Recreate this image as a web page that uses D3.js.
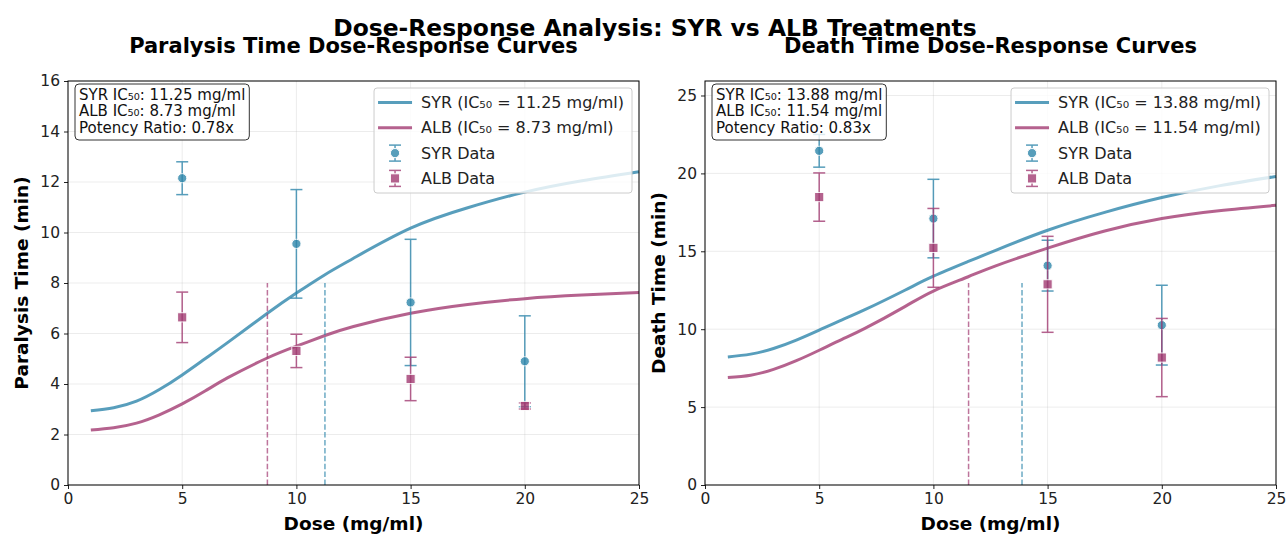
<!DOCTYPE html>
<html>
<head>
<meta charset="utf-8">
<script src="https://cdn.jsdelivr.net/npm/d3@7"></script>
<style>
  body { margin: 0; background: #fff; }
  svg { font-family: "DejaVu Sans", sans-serif; }
</style>
</head>
<body>
<svg id="chart" width="1286" height="534"></svg>
<script>
// Observed doses and measured means / error bars
const doses = [5, 10, 15, 20];
const paralysisSyrMean = [12.15, 9.55, 7.23, 4.9];
const paralysisSyrErr = [0.65, 2.15, 2.5, 1.8];
const paralysisAlbMean = [6.64, 5.31, 4.2, 3.13];
const paralysisAlbErr = [1.0, 0.66, 0.86, 0.12];
const deathSyrMean = [21.45, 17.1, 14.08, 10.26];
const deathSyrErr = [1.05, 2.52, 1.63, 2.56];
const deathAlbMean = [18.48, 15.22, 12.88, 8.18];
const deathAlbErr = [1.55, 2.53, 3.08, 2.51];

// Fitted curves
const paralysisCurveDose = [1, 2, 3, 4, 5, 6, 7, 8.7, 10, 11.25, 12.5, 15, 17.5, 20, 22.5, 25];
const paralysisSyrCurve = [2.94, 3.06, 3.32, 3.78, 4.36, 5.0, 5.65, 6.78, 7.6, 8.33, 8.98, 10.17, 10.98, 11.6, 12.05, 12.41];
const paralysisAlbCurve = [2.18, 2.27, 2.45, 2.78, 3.21, 3.72, 4.25, 5.02, 5.5, 5.92, 6.28, 6.8, 7.15, 7.38, 7.52, 7.62];
const deathCurveDose = [1, 2, 3, 4, 5, 6, 7, 8.75, 10, 11.5, 12.7, 15, 17.5, 20, 22.5, 25];
const deathSyrCurve = [8.22, 8.4, 8.76, 9.3, 9.94, 10.6, 11.25, 12.5, 13.4, 14.33, 15.05, 16.35, 17.5, 18.45, 19.2, 19.8];
const deathAlbCurve = [6.9, 7.05, 7.42, 7.98, 8.65, 9.35, 10.05, 11.45, 12.45, 13.35, 14.05, 15.2, 16.3, 17.1, 17.6, 17.95];

const paralysisIC50 = { syr: 11.25, alb: 8.73 };
const deathIC50 = { syr: 13.88, alb: 11.54 };
const potencyRatios = ["0.78x", "0.83x"];

const xTicks = [0, 5, 10, 15, 20, 25];
const paralysisYTicks = [0, 2, 4, 6, 8, 10, 12, 14, 16];
const deathYTicks = [0, 5, 10, 15, 20, 25];

const SYR = "#2E86AB";
const ALB = "#A23B72";

const svg = d3.select("#chart");
svg.append("rect").attr("width", 1286).attr("height", 534).attr("fill", "#fff");

svg.append("text")
    .attr("x", 655).attr("y", 35.5)
    .attr("text-anchor", "middle")
    .attr("font-size", 23.4).attr("font-weight", "bold")
    .text("Dose-Response Analysis: SYR vs ALB Treatments");

function drawPanel(cfg) {
    const x = d3.scaleLinear().domain([0, 25]).range([cfg.left, cfg.right]);
    const y = d3.scaleLinear().domain([0, cfg.yMax]).range([485, 81]);
    const g = svg.append("g");

    // Grid
    g.append("g").selectAll("line").data(xTicks).join("line")
        .attr("x1", d => x(d)).attr("x2", d => x(d))
        .attr("y1", y.range()[0]).attr("y2", y.range()[1])
        .attr("stroke", "#b0b0b0").attr("stroke-opacity", 0.3).attr("stroke-width", 0.8);
    g.append("g").selectAll("line").data(cfg.yTicks).join("line")
        .attr("x1", cfg.left).attr("x2", cfg.right)
        .attr("y1", d => y(d)).attr("y2", d => y(d))
        .attr("stroke", "#b0b0b0").attr("stroke-opacity", 0.3).attr("stroke-width", 0.8);

    // Curves
    const line = d3.line().x(d => x(d[0])).y(d => y(d[1])).curve(d3.curveNatural);
    [[cfg.syrCurve, SYR], [cfg.albCurve, ALB]].forEach(([vals, col]) => {
        g.append("path")
            .datum(cfg.curveDose.map((d, i) => [d, vals[i]]))
            .attr("d", line)
            .attr("fill", "none").attr("stroke", col)
            .attr("stroke-width", 3).attr("stroke-opacity", 0.8);
    });

    // IC50 markers (half the axes height)
    [[cfg.ic50.syr, SYR], [cfg.ic50.alb, ALB]].forEach(([v, col]) => {
        g.append("line")
            .attr("x1", x(v)).attr("x2", x(v))
            .attr("y1", y(0)).attr("y2", (y(0) + y(cfg.yMax)) / 2)
            .attr("stroke", col).attr("stroke-width", 1.5).attr("stroke-opacity", 0.7)
            .attr("stroke-dasharray", "5.5,2.4");
    });

    // Error bars + markers
    function errorBars(means, errs, col, shape) {
        const eg = g.append("g").attr("opacity", 0.8);
        doses.forEach((d, i) => {
            const cx = x(d), lo = y(means[i] - errs[i]), hi = y(means[i] + errs[i]);
            eg.append("line").attr("x1", cx).attr("x2", cx).attr("y1", lo).attr("y2", hi)
                .attr("stroke", col).attr("stroke-width", 1.5);
            [lo, hi].forEach(yy => eg.append("line")
                .attr("x1", cx - 6).attr("x2", cx + 6).attr("y1", yy).attr("y2", yy)
                .attr("stroke", col).attr("stroke-width", 1.5));
        });
        const mg = g.append("g").attr("opacity", 0.8);
        doses.forEach((d, i) => {
            if (shape === "circle") {
                mg.append("circle").attr("cx", x(d)).attr("cy", y(means[i])).attr("r", 4.6)
                    .attr("fill", col).attr("stroke", "#fff").attr("stroke-width", 1);
            } else {
                mg.append("rect").attr("x", x(d) - 4.6).attr("y", y(means[i]) - 4.6)
                    .attr("width", 9.2).attr("height", 9.2)
                    .attr("fill", col).attr("stroke", "#fff").attr("stroke-width", 1);
            }
        });
    }
    errorBars(cfg.syrMean, cfg.syrErr, SYR, "circle");
    errorBars(cfg.albMean, cfg.albErr, ALB, "square");

    // Axes
    const xAxis = g.append("g").attr("transform", `translate(0,485)`)
        .call(d3.axisBottom(x).tickValues(xTicks).tickSize(4).tickPadding(4));
    const yAxis = g.append("g").attr("transform", `translate(${cfg.left},0)`)
        .call(d3.axisLeft(y).tickValues(cfg.yTicks).tickSize(4).tickPadding(4));
    [xAxis, yAxis].forEach(a => {
        a.select(".domain").remove();
        a.selectAll("text").attr("font-size", 15.5).attr("font-family", "DejaVu Sans").attr("fill", "#222");
        a.selectAll("line").attr("stroke", "#222");
    });
    g.append("rect")
        .attr("x", cfg.left).attr("y", 81)
        .attr("width", cfg.right - cfg.left).attr("height", 404)
        .attr("fill", "none").attr("stroke", "#000").attr("stroke-width", 1);

    // Labels
    g.append("text").attr("x", (cfg.left + cfg.right) / 2).attr("y", 53)
        .attr("text-anchor", "middle").attr("font-size", 21).attr("font-weight", "bold")
        .text(cfg.title);
    g.append("text").attr("x", (cfg.left + cfg.right) / 2).attr("y", 530)
        .attr("text-anchor", "middle").attr("font-size", 18.5).attr("font-weight", "bold")
        .text("Dose (mg/ml)");
    g.append("text")
        .attr("transform", `translate(${cfg.left - 40},${283}) rotate(-90)`)
        .attr("text-anchor", "middle").attr("font-size", 18.5).attr("font-weight", "bold")
        .text(cfg.yLabel);

    // Info box
    const info = [
        `SYR IC₅₀: ${cfg.ic50.syr.toFixed(2)} mg/ml`,
        `ALB IC₅₀: ${cfg.ic50.alb.toFixed(2)} mg/ml`,
        `Potency Ratio: ${cfg.ratio}`
    ];
    const ib = g.append("g");
    const ibRect = ib.append("rect").attr("x", cfg.left + 7).attr("y", 84)
        .attr("height", 56).attr("rx", 4)
        .attr("fill", "#fff").attr("fill-opacity", 0.8)
        .attr("stroke", "#333").attr("stroke-width", 1);
    const ibText = ib.selectAll("text").data(info).join("text")
        .attr("x", cfg.left + 11).attr("y", (d, i) => 99.5 + i * 16.8)
        .attr("font-size", 15).attr("fill", "#111").text(d => d);
    const ibW = d3.max(ibText.nodes(), n => n.getComputedTextLength());
    ibRect.attr("width", ibW + 8);

    // Legend
    const items = [
        { type: "line", col: SYR, label: `SYR (IC₅₀ = ${cfg.ic50.syr.toFixed(2)} mg/ml)` },
        { type: "line", col: ALB, label: `ALB (IC₅₀ = ${cfg.ic50.alb.toFixed(2)} mg/ml)` },
        { type: "circle", col: SYR, label: "SYR Data" },
        { type: "square", col: ALB, label: "ALB Data" }
    ];
    const lg = g.append("g");
    const lgRect = lg.append("rect").attr("y", 88).attr("height", 105).attr("rx", 3)
        .attr("fill", "#fff").attr("fill-opacity", 0.8)
        .attr("stroke", "#ccc").attr("stroke-width", 1);
    const lgText = lg.selectAll("text").data(items).join("text")
        .attr("font-size", 16).attr("fill", "#222")
        .attr("y", (d, i) => 108 + i * 25.3).text(d => d.label);
    const lgW = d3.max(lgText.nodes(), n => n.getComputedTextLength());
    const lx = cfg.right - 7 - (lgW + 55);
    lgRect.attr("x", lx).attr("width", lgW + 55);
    lgText.attr("x", lx + 47);
    items.forEach((d, i) => {
        const cy = 102.5 + i * 25.3, hx = lx + 21;
        if (d.type === "line") {
            lg.append("line").attr("x1", lx + 4).attr("x2", lx + 38).attr("y1", cy).attr("y2", cy)
                .attr("stroke", d.col).attr("stroke-width", 3).attr("stroke-opacity", 0.8);
        } else {
            const hg = lg.append("g").attr("opacity", 0.8);
            hg.append("line").attr("x1", hx).attr("x2", hx).attr("y1", cy - 8).attr("y2", cy + 8)
                .attr("stroke", d.col).attr("stroke-width", 1.5);
            [cy - 8, cy + 8].forEach(yy => hg.append("line")
                .attr("x1", hx - 6).attr("x2", hx + 6).attr("y1", yy).attr("y2", yy)
                .attr("stroke", d.col).attr("stroke-width", 1.5));
            if (d.type === "circle") {
                hg.append("circle").attr("cx", hx).attr("cy", cy).attr("r", 4.6)
                    .attr("fill", d.col).attr("stroke", "#fff");
            } else {
                hg.append("rect").attr("x", hx - 4.6).attr("y", cy - 4.6).attr("width", 9.2).attr("height", 9.2)
                    .attr("fill", d.col).attr("stroke", "#fff");
            }
        }
    });
}

drawPanel({
    left: 68, right: 639, yMax: 16, yTicks: paralysisYTicks,
    title: "Paralysis Time Dose-Response Curves", yLabel: "Paralysis Time (min)",
    curveDose: paralysisCurveDose, syrCurve: paralysisSyrCurve, albCurve: paralysisAlbCurve,
    syrMean: paralysisSyrMean, syrErr: paralysisSyrErr,
    albMean: paralysisAlbMean, albErr: paralysisAlbErr,
    ic50: paralysisIC50, ratio: potencyRatios[0]
});

drawPanel({
    left: 705, right: 1276, yMax: 25.93, yTicks: deathYTicks,
    title: "Death Time Dose-Response Curves", yLabel: "Death Time (min)",
    curveDose: deathCurveDose, syrCurve: deathSyrCurve, albCurve: deathAlbCurve,
    syrMean: deathSyrMean, syrErr: deathSyrErr,
    albMean: deathAlbMean, albErr: deathAlbErr,
    ic50: deathIC50, ratio: potencyRatios[1]
});
</script>
</body>
</html>
